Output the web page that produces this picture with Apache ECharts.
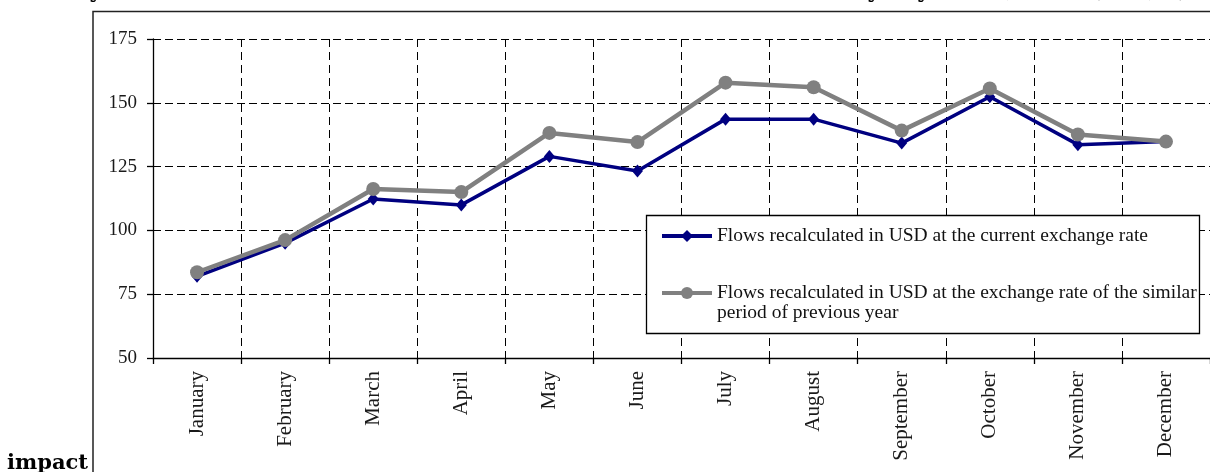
<!DOCTYPE html>
<html>
<head>
<meta charset="utf-8">
<script src="https://cdn.jsdelivr.net/npm/echarts@6/dist/echarts.min.js"></script>
<style>
html,body{margin:0;padding:0;background:#fff;}
#c{width:1210px;height:472px;}
</style>
</head>
<body>
<div id="c"></div>
<script>
// ---- data ----
const months = ['January','February','March','April','May','June','July','August','September','October','November','December'];
const currentRate = [82, 95, 112.3, 110, 129, 123.3, 143.6, 143.6, 134.2, 152.4, 133.6, 134.8];
const previousRate = [83.6, 96.2, 116.2, 115, 138.2, 134.6, 157.9, 156.1, 139.1, 155.6, 137.6, 134.8];
const yTicks = {min: 50, max: 175, interval: 25};
const nameCurrent = 'Flows recalculated in USD at the current exchange rate';
const namePrevious = 'Flows recalculated in USD at the exchange rate of the similar period of previous year';
const titleText = 'Monthly net FDI inflows to the real sector of the national economies by key items, 2008 (mln, $)';
const footText = 'impact';

const serif = '"Liberation Serif", "Times New Roman", serif';
const chart = echarts.init(document.getElementById('c'), null, {renderer: 'canvas'});
chart.setOption({
  animation: false,
  backgroundColor: '#fff',
  grid: {left: 153, top: 39, width: 1062, height: 319, containLabel: false},
  xAxis: {
    type: 'category',
    data: months,
    boundaryGap: true,
    axisLine: {show: true, lineStyle: {color: '#000', width: 1.3}},
    axisTick: {show: true, length: 6, lineStyle: {color: '#000', width: 1.3}},
    axisLabel: {rotate: 90, margin: 13, fontFamily: serif, fontSize: 21, color: '#1a1a1a'},
    splitLine: {show: true, lineStyle: {color: '#000', width: 1, type: [8, 5]}}
  },
  yAxis: {
    type: 'value',
    min: yTicks.min, max: yTicks.max, interval: yTicks.interval,
    axisLine: {show: true, lineStyle: {color: '#000', width: 1.3}},
    axisTick: {show: true, length: 6, lineStyle: {color: '#000', width: 1.3}},
    axisLabel: {margin: 16, fontFamily: serif, fontSize: 19, color: '#1a1a1a'},
    splitLine: {show: true, lineStyle: {color: '#000', width: 1, type: [8, 4]}}
  },
  legend: {
    orient: 'vertical',
    left: 646, top: 215,
    padding: [11, 6, 8, 14],
    itemWidth: 50, itemHeight: 15, itemGap: 17,
    lineStyle: {width: 4},
    textStyle: {fontFamily: serif, fontSize: 19.5, color: '#111', lineHeight: 20},
    formatter: function (name) {
      return name === namePrevious ? '\n' + name.replace(' period', '\nperiod') : name;
    },
    data: [nameCurrent, namePrevious],
    z: 5
  },
  series: [
    {
      name: nameCurrent, type: 'line', data: currentRate,
      symbol: 'diamond', symbolSize: [11, 13],
      lineStyle: {color: '#000080', width: 3.5},
      itemStyle: {color: '#000080'},
      z: 2
    },
    {
      name: namePrevious, type: 'line', data: previousRate,
      symbol: 'circle', symbolSize: 14,
      lineStyle: {color: '#808080', width: 4.5},
      itemStyle: {color: '#808080'},
      z: 2
    }
  ],
  graphic: [
    {type: 'rect', shape: {x: 646.5, y: 215.5, width: 553, height: 118}, style: {fill: '#fff', stroke: '#000', lineWidth: 1.3}, z: 4},
    {type: 'rect', shape: {x: 93, y: 11.5, width: 1200, height: 500}, style: {fill: null, stroke: '#222', lineWidth: 1.5}, z: 10, silent: true},
    {type: 'text', x: 0, y: 2, style: {text: titleText, font: 'bold 22px "DejaVu Serif", serif', fill: '#000', verticalAlign: 'bottom'}, z: 10},
    {type: 'text', x: 7, y: 464, style: {text: footText, font: 'bold 21px "DejaVu Serif", serif', fill: '#000', verticalAlign: 'middle'}, z: 10}
  ]
});
</script>
</body>
</html>
